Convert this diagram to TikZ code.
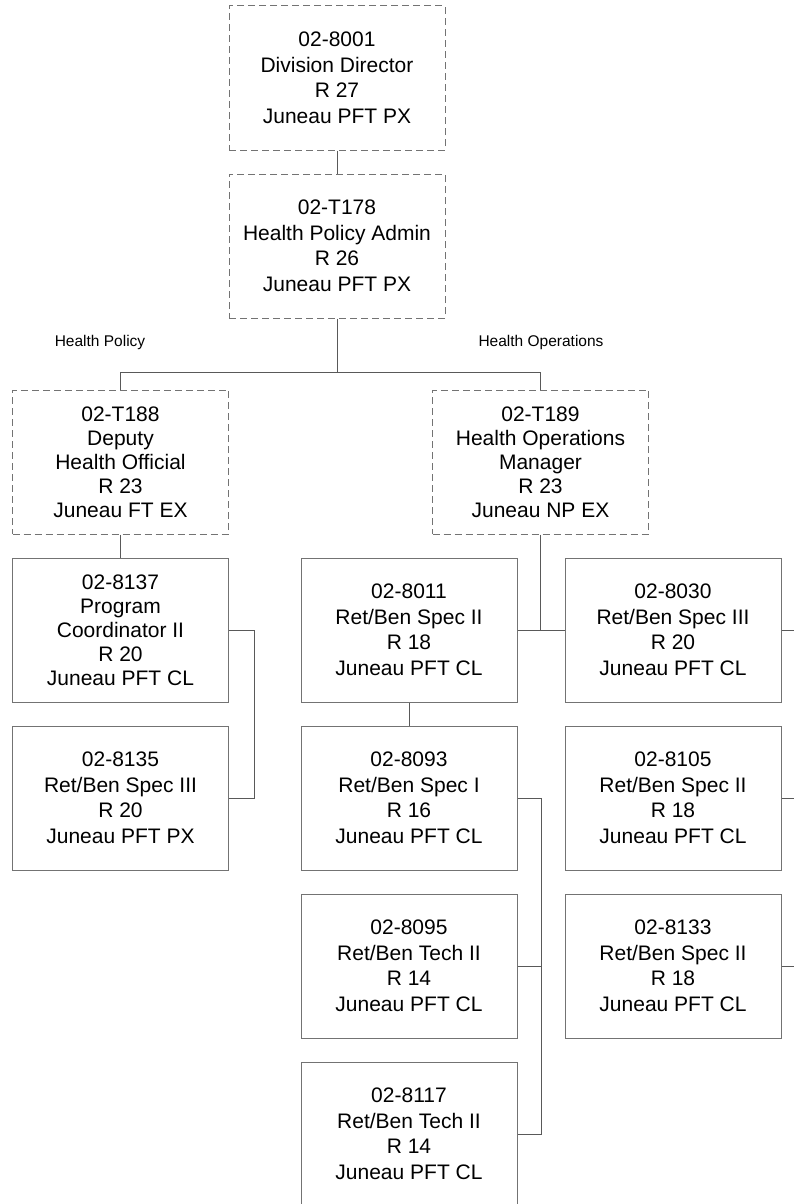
\documentclass[tikz,border=0pt]{standalone}
\usepackage{fontspec}
\setmainfont{Liberation Sans}
\begin{document}
\begin{tikzpicture}[x=1pt,y=-1pt,
        post/.style={draw=black!55,line width=1pt,minimum width=216pt,minimum height=144pt,inner sep=0pt,align=center,font=\fontsize{21}{25.5}\selectfont},
        vac/.style={post,dash pattern=on 7pt off 4pt},
        link/.style={draw=black!65,line width=1pt},
        tag/.style={font=\fontsize{15.5}{18}\selectfont}]
                \useasboundingbox (0,0) rectangle (793,1204);
                % vacant positions
                \node[vac] (dir) at (337,78) {02-8001\\Division Director\\R 27\\Juneau PFT PX};
                \node[vac] (adm) at (337,246) {02-T178\\Health Policy Admin\\R 26\\Juneau PFT PX};
                \node[vac,font=\fontsize{21}{24}\selectfont] (pol) at (120.5,462) {02-T188\\Deputy\\Health Official\\R 23\\Juneau FT EX};
                \node[vac,font=\fontsize{21}{24}\selectfont] (ops) at (540.5,462) {02-T189\\Health Operations\\Manager\\R 23\\Juneau NP EX};
                \node[tag] (hp) at (100,342) {Health Policy};
                \node[tag] (ho) at (541,342) {Health Operations};
                % filled positions
                \node[post,font=\fontsize{21}{24}\selectfont] (a1) at (120.5,630) {02-8137\\Program\\Coordinator II\\R 20\\Juneau PFT CL};
                \foreach \n/\x/\y/\t in {a2/120.5/798/{02-8135\\Ret/Ben Spec III\\R 20\\Juneau PFT PX},
                    b1/409/630/{02-8011\\Ret/Ben Spec II\\R 18\\Juneau PFT CL},
                    b2/409/798/{02-8093\\Ret/Ben Spec I\\R 16\\Juneau PFT CL},
                    b3/409/966/{02-8095\\Ret/Ben Tech II\\R 14\\Juneau PFT CL},
                    b4/409/1134/{02-8117\\Ret/Ben Tech II\\R 14\\Juneau PFT CL},
                    c1/673/630/{02-8030\\Ret/Ben Spec III\\R 20\\Juneau PFT CL},
                    c2/673/798/{02-8105\\Ret/Ben Spec II\\R 18\\Juneau PFT CL},
                    c3/673/966/{02-8133\\Ret/Ben Spec II\\R 18\\Juneau PFT CL}}{
                    \node[post] (\n) at (\x,\y) {\t};
                }
                % reporting lines
                \draw[link] (dir.south) -- (adm.north);
                \draw[link] (adm.south) -- ++(0,54) coordinate (bar);
                \draw[link] (pol.north) |- (bar) -| (ops.north);
                \draw[link] (pol.south) -- (a1.north);
                \draw[link] (a1.east) -- ++(25,0) |- (a2.east);
                \draw[link] (b1.east) -- (c1.west);
                \draw[link] (ops.south) -- (ops.south |- c1.west);
                \draw[link] (b1.south) -- (b2.north);
                \draw[link] (b2.east) -- ++(24,0) |- (b4.east);
                \draw[link] (b3.east) -- ++(24,0);
                \foreach \n in {c1,c2,c3}{
                    \draw[link] (\n.east) -- ++(20,0);
                }
            \end{tikzpicture}
\end{document}
